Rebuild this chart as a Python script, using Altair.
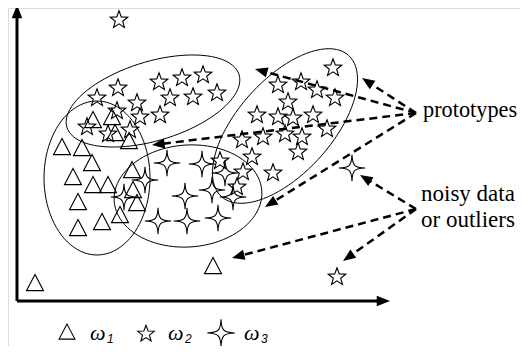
import math
import altair as alt
import pandas as pd

# ---------------- data (pixel-like feature space, y grows downward) ----
# class omega1 : triangles
w1_x = [93, 112, 115, 129, 62, 82, 92, 73, 93, 108, 78, 132, 133, 137, 120, 102, 78, 35, 213]
w1_y = [120, 117, 133, 141, 147, 148, 163, 177, 185, 185, 202, 170, 190, 203, 215, 222, 228, 283, 266]

# class omega2 : five-point stars
w2_x = [118, 97, 159, 182, 203, 170, 193, 217, 137, 117, 140, 160, 87, 108, 130,
        333, 278, 301, 317, 335, 288, 257, 278, 293, 313, 327, 242, 263, 285, 302,
        298, 252, 273, 243, 220, 237,
        119, 337]
w2_y = [88, 98, 82, 78, 75, 98, 97, 93, 103, 111, 117, 115, 127, 134, 130,
        68, 85, 82, 90, 98, 102, 115, 117, 118, 115, 129, 140, 137, 134, 137,
        152, 157, 173, 172, 161, 187,
        20, 277]

# class omega3 : four-point stars
w3_x = [167, 202, 225, 145, 124, 185, 212, 233, 158, 187, 218, 352]
w3_y = [163, 164, 173, 180, 197, 196, 190, 197, 221, 221, 218, 168]

# cluster ellipses: centre, semi-axes, tilt (degrees, right end raised)
ell_id = ["E1", "E2", "E3", "E4"]
ell_cx = [153, 285, 97, 188]
ell_cy = [101, 126, 178, 196]
ell_a = [90, 95, 53, 74]
ell_b = [39.5, 47, 77, 51]
ell_rot = [17, 48, 0, 4]

# dashed annotation arrows: tail -> tip
arr_x1 = [416, 416, 416, 416, 416, 416, 416]
arr_y1 = [113, 113, 113, 113, 209, 209, 209]
arr_x2 = [255, 362, 152, 265, 360, 232, 343]
arr_y2 = [69, 78, 145, 207, 175, 258, 261]

# coordinate axes: origin -> tip
axis_x1 = [17, 17]
axis_y1 = [301, 301]
axis_x2 = [17, 390]
axis_y2 = [5, 301]

# annotation labels
ann_text = ["prototypes", "noisy data", "or outliers"]
ann_x = [423, 421, 421]
ann_y = [117, 201, 227]
ann_size = [22.3, 23, 23]

# legend
leg_sym_x = [67, 146, 221]
leg_sym_y = [332, 334, 333]
leg_sym_cls = ["w1", "w2", "w3"]
leg_omega_x = [90, 168, 244]
leg_sub_x = [107, 185, 261]
leg_sub = ["1", "2", "3"]
leg_omega_y = 340
leg_sub_y = 343

# ---------------- shapes ----------------
TRI = "M0,-1L-1,0.9L1,0.9Z"
pts = []
for k in range(10):
    r = 1.0 if k % 2 == 0 else 0.42
    a = math.radians(-90 + 36 * k)
    pts.append(f"{r*math.cos(a):.3f},{r*math.sin(a):.3f}")
STAR5 = "M" + "L".join(pts) + "Z"
STAR4 = ("M0,-1C0.03,-0.18 0.18,-0.03 1,0C0.18,0.03 0.03,0.18 0,1"
         "C-0.03,0.18 -0.18,0.03 -1,0C-0.18,-0.03 -0.03,-0.18 0,-1Z")
HEAD = "M0,0L-0.8,2L0.8,2Z"

W, H = 512, 338
xs = alt.Scale(domain=[8, 8 + W], nice=False, zero=False)
ys = alt.Scale(domain=[8 + H, 8], nice=False, zero=False)


def X(f):
    return alt.X(f, type="quantitative", scale=xs, axis=None)


def Y(f):
    return alt.Y(f, type="quantitative", scale=ys, axis=None)


df1 = pd.DataFrame({"x": w1_x, "y": w1_y})
df2 = pd.DataFrame({"x": w2_x, "y": w2_y})
df3 = pd.DataFrame({"x": w3_x, "y": w3_y})

tri = alt.Chart(df1).mark_point(shape=TRI, size=289, stroke="black", strokeWidth=1.1,
                                filled=False, opacity=1).encode(x=X("x"), y=Y("y"))
st5 = alt.Chart(df2).mark_point(shape=STAR5, size=340, stroke="black", strokeWidth=1.1,
                                filled=False, opacity=1).encode(x=X("x"), y=Y("y"))
st4 = alt.Chart(df3).mark_point(shape=STAR4, size=700, stroke="black", strokeWidth=1.1,
                                filled=False, opacity=1).encode(x=X("x"), y=Y("y"))

ell_df = pd.DataFrame({"id": ell_id, "cx": ell_cx, "cy": ell_cy, "a": ell_a,
                       "b": ell_b, "rot": ell_rot})
ellipses = alt.Chart(ell_df).transform_calculate(
    t="sequence(0, 361, 4)"
).transform_flatten(["t"]).transform_calculate(
    tr="datum.t*PI/180", pr="datum.rot*PI/180"
).transform_calculate(
    ex="datum.cx + datum.a*cos(datum.tr)*cos(datum.pr) + datum.b*sin(datum.tr)*sin(datum.pr)",
    ey="datum.cy - datum.a*cos(datum.tr)*sin(datum.pr) + datum.b*sin(datum.tr)*cos(datum.pr)",
).mark_line(stroke="black", strokeWidth=1).encode(
    x=X("ex"), y=Y("ey"), detail="id:N", order="t:Q")


def arrows(x1, y1, x2, y2, dash, width, hsize, back):
    d = pd.DataFrame({"x1": x1, "y1": y1, "x2": x2, "y2": y2})
    base = alt.Chart(d).transform_calculate(
        dx="datum.x2 - datum.x1", dy="datum.y2 - datum.y1"
    ).transform_calculate(
        L="sqrt(datum.dx*datum.dx + datum.dy*datum.dy)",
        ang="(atan2(datum.dx, -datum.dy)*180/PI + 360) % 360",
    ).transform_calculate(
        ex=f"datum.x2 - datum.dx/datum.L*{back}",
        ey=f"datum.y2 - datum.dy/datum.L*{back}",
    )
    kw = dict(stroke="black", strokeWidth=width)
    if dash:
        kw["strokeDash"] = dash
    line = base.mark_rule(**kw).encode(x=X("x1"), y=Y("y1"), x2="ex:Q", y2="ey:Q")
    head = base.mark_point(shape=HEAD, size=hsize, filled=True, fill="black",
                           strokeWidth=0, opacity=1).encode(
        x=X("x2"), y=Y("y2"), angle=alt.Angle("ang:Q", scale=None))
    return line + head


dashed = arrows(arr_x1, arr_y1, arr_x2, arr_y2, [8, 5], 2.5, 160, 9)
axes = arrows(axis_x1, axis_y1, axis_x2, axis_y2, None, 3, 175, 9)

ann = alt.Chart(pd.DataFrame({"t": ann_text, "x": ann_x, "y": ann_y, "s": ann_size})).mark_text(
    font="Liberation Serif", align="left", baseline="alphabetic", color="black"
).encode(x=X("x"), y=Y("y"), text="t:N", size=alt.Size("s:Q", scale=None, legend=None))

leg_df = pd.DataFrame({"x": leg_sym_x, "y": leg_sym_y, "c": leg_sym_cls})
leg_tri = alt.Chart(leg_df).transform_filter("datum.c == 'w1'").mark_point(
    shape=TRI, size=250, stroke="black", strokeWidth=1.1, filled=False, opacity=1
).encode(x=X("x"), y=Y("y"))
leg_st5 = alt.Chart(leg_df).transform_filter("datum.c == 'w2'").mark_point(
    shape=STAR5, size=300, stroke="black", strokeWidth=1.1, filled=False, opacity=1
).encode(x=X("x"), y=Y("y"))
leg_st4 = alt.Chart(leg_df).transform_filter("datum.c == 'w3'").mark_point(
    shape=STAR4, size=750, stroke="black", strokeWidth=1.1, filled=False, opacity=1
).encode(x=X("x"), y=Y("y"))

om_df = pd.DataFrame({"x": leg_omega_x, "y": [leg_omega_y] * 3, "t": ["ω"] * 3})
sub_df = pd.DataFrame({"x": leg_sub_x, "y": [leg_sub_y] * 3, "t": leg_sub})
omega = alt.Chart(om_df).mark_text(
    font="Liberation Serif", fontStyle="italic", fontSize=22, align="left",
    baseline="alphabetic", color="black").encode(x=X("x"), y=Y("y"), text="t:N")
subs = alt.Chart(sub_df).mark_text(
    font="Liberation Sans", fontStyle="italic", fontSize=12, align="left",
    baseline="alphabetic", color="black").encode(x=X("x"), y=Y("y"), text="t:N")

chart = alt.layer(
    ellipses, tri, st5, st4, dashed, axes, ann, leg_tri, leg_st5, leg_st4, omega, subs
).properties(
    width=W, height=H, padding=0, autosize=alt.AutoSizeParams(type="none")
).configure_view(stroke=None).configure(background="white")

chart.save("out.html", embed_options={"renderer": "svg", "actions": False})
